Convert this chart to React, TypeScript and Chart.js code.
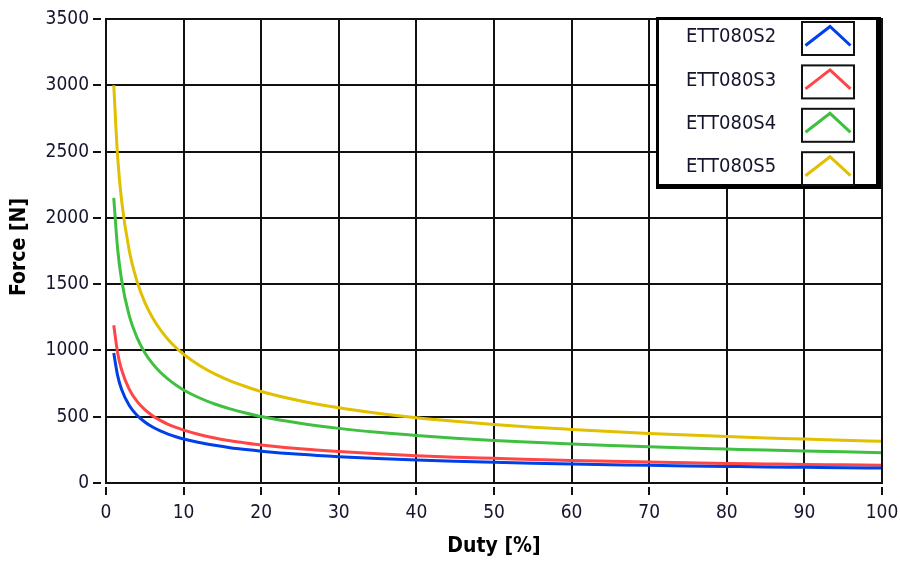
import React, { useEffect, useRef } from "react";
import { Chart, registerables } from "chart.js";

Chart.register(...registerables);

const duty = [1, 1.5, 2, 3, 4, 5, 6, 7, 8, 9, 10, 12, 14, 16, 18, 20, 25, 30, 35, 40, 45, 50, 55, 60, 65, 70, 75, 80, 85, 90, 95, 100];

const ett080s2 = [980, 810, 708, 585, 511, 460, 422, 393, 369, 349, 332, 305, 284, 266, 252, 240, 216, 198, 184, 173, 164, 156, 149, 143, 138, 133, 129, 125, 121, 118, 115, 113];
const ett080s3 = [1190, 981, 856, 706, 616, 554, 508, 472, 443, 419, 399, 366, 340, 319, 302, 287, 258, 237, 220, 206, 195, 186, 177, 170, 164, 158, 153, 148, 144, 140, 137, 134];
const ett080s4 = [2150, 1765, 1535, 1260, 1096, 983, 900, 835, 783, 739, 702, 643, 596, 559, 528, 501, 450, 412, 382, 358, 338, 321, 307, 294, 283, 273, 264, 256, 248, 241, 235, 229];
const ett080s5 = [3000, 2460, 2136, 1752, 1521, 1363, 1247, 1157, 1083, 1022, 971, 888, 823, 771, 728, 690, 620, 567, 526, 492, 465, 441, 421, 404, 388, 374, 362, 350, 340, 331, 322, 314];

const seriesNames = ["ETT080S2", "ETT080S3", "ETT080S4", "ETT080S5"];
const seriesValues = [ett080s2, ett080s3, ett080s4, ett080s5];
const seriesColors = ["#0040e8", "#ff4646", "#40c040", "#e0c000"];

const xTicks = [0, 10, 20, 30, 40, 50, 60, 70, 80, 90, 100];
const yTicks = [0, 500, 1000, 1500, 2000, 2500, 3000, 3500];

const xTitle = "Duty [%]";
const yTitle = "Force [N]";

const FONT = "'DejaVu Sans Condensed', 'DejaVu Sans', sans-serif";
const TEXT_COLOR = "#15152e";

const decorPlugin = {
  id: "decor",
  afterDatasetsDraw(chart: any) {
    const ctx = chart.ctx;
    const area = chart.chartArea;
    const xs = chart.scales.x;
    const ys = chart.scales.y;
    ctx.save();
    // frame
    ctx.strokeStyle = "#111";
    ctx.lineWidth = 2;
    ctx.strokeRect(area.left, area.top, area.right - area.left, area.bottom - area.top);
    // tick marks
    ctx.beginPath();
    for (const v of yTicks) {
      const y = Math.round(ys.getPixelForValue(v));
      ctx.moveTo(area.left - 13, y);
      ctx.lineTo(area.left - 5, y);
    }
    for (const v of xTicks) {
      const x = Math.round(xs.getPixelForValue(v));
      ctx.moveTo(x, area.bottom + 4);
      ctx.lineTo(x, area.bottom + 12);
    }
    ctx.stroke();

    // axis titles
    ctx.fillStyle = "#000";
    ctx.font = "bold 21px " + FONT;
    ctx.textAlign = "center";
    ctx.textBaseline = "middle";
    ctx.fillText(xTitle, (area.left + area.right) / 2, 547);
    ctx.save();
    ctx.translate(20, (area.top + area.bottom) / 2 - 4);
    ctx.rotate(-Math.PI / 2);
    ctx.fillText(yTitle, 0, 0);
    ctx.restore();

    // legend
    const lx = 657, ly = 18, lw = 223, lh = 170;
    ctx.fillStyle = "#fff";
    ctx.fillRect(lx, ly, lw, lh);
    ctx.fillStyle = "#000";
    ctx.fillRect(lx - 1, ly - 1, lw + 2, 3);
    ctx.fillRect(lx - 1, ly - 1, 3, lh + 2);
    ctx.fillRect(lx + lw - 4, ly - 1, 5, lh + 2);
    ctx.fillRect(lx - 1, ly + lh - 4, lw + 2, 5);

    ctx.font = "20px " + FONT;
    ctx.textAlign = "left";
    ctx.textBaseline = "middle";
    for (let i = 0; i < seriesNames.length; i++) {
      const cy = 37 + i * 43.4;
      ctx.fillStyle = TEXT_COLOR;
      ctx.fillText(seriesNames[i], 686, cy);
      const bx = 802, by = cy - 15, bw = 52, bh = 33;
      ctx.strokeStyle = "#111";
      ctx.lineWidth = 2;
      ctx.strokeRect(bx, by, bw, bh);
      ctx.strokeStyle = seriesColors[i];
      ctx.lineWidth = 3;
      ctx.beginPath();
      ctx.moveTo(bx + 3.5, by + 23.5);
      ctx.lineTo(bx + 28, by + 4.5);
      ctx.lineTo(bx + 48.5, by + 23.5);
      ctx.stroke();
    }
    ctx.restore();
  },
};

const zeroPad = (s: any) => {
  s.paddingTop = 0;
  s.paddingBottom = 0;
  s.paddingLeft = 0;
  s.paddingRight = 0;
};

export default function App() {
  const canvasRef = useRef<HTMLCanvasElement | null>(null);

  useEffect(() => {
    if (!canvasRef.current) return;
    const datasets = seriesNames.map((name, i) => ({
      label: name,
      data: duty.map((d, j) => ({ x: d, y: seriesValues[i][j] })),
      borderColor: seriesColors[i],
      backgroundColor: seriesColors[i],
      borderWidth: 3,
      pointRadius: 0,
      cubicInterpolationMode: "monotone" as const,
      fill: false,
    }));
    const chart = new Chart(canvasRef.current, {
      type: "line",
      data: { datasets },
      plugins: [decorPlugin],
      options: {
        responsive: false,
        animation: false,
        layout: { padding: { top: 19, right: 18, left: 0, bottom: 0 } },
        plugins: {
          legend: { display: false },
          tooltip: { enabled: false },
        },
        scales: {
          x: {
            type: "linear",
            min: 0,
            max: 100,
            afterFit: (s: any) => {
              s.height = 83;
              zeroPad(s);
            },
            afterBuildTicks: (s: any) => {
              s.ticks = xTicks.map((v) => ({ value: v }));
            },
            grid: { color: "#111", lineWidth: 2, drawTicks: false },
            border: { display: false },
            ticks: {
              padding: 19,
              maxRotation: 0,
              autoSkip: false,
              color: TEXT_COLOR,
              font: { family: FONT, size: 19 },
              callback: (v: any) => String(v),
            },
          },
          y: {
            type: "linear",
            min: 0,
            max: 3500,
            afterFit: (s: any) => {
              s.width = 106;
              zeroPad(s);
            },
            afterBuildTicks: (s: any) => {
              s.ticks = yTicks.map((v) => ({ value: v }));
            },
            grid: { color: "#111", lineWidth: 2, drawTicks: false },
            border: { display: false },
            ticks: {
              padding: 17,
              autoSkip: false,
              color: TEXT_COLOR,
              font: { family: FONT, size: 19 },
              callback: (v: any) => String(v),
            },
          },
        },
      },
    });
    return () => chart.destroy();
  }, []);

  return (
    <div style={{ position: "fixed", left: 0, top: 0, width: 900, height: 566, background: "#fff" }}>
      <canvas ref={canvasRef} width={900} height={566} style={{ width: 900, height: 566 }} />
    </div>
  );
}
